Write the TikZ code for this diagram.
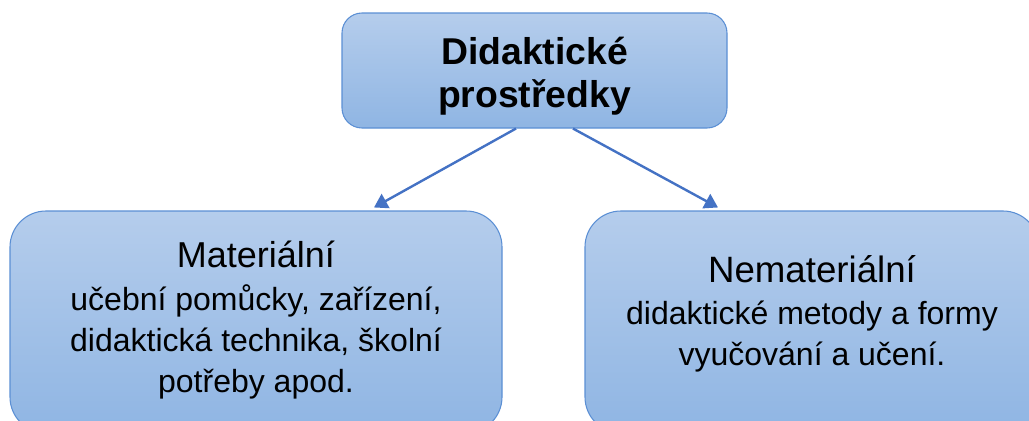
\documentclass[tikz,border=0pt]{standalone}
\usepackage{fontspec}
\setmainfont{Liberation Sans}
\usetikzlibrary{calc}
\usetikzlibrary{arrows.meta}

\definecolor{boxtop}{RGB}{181,205,236}
\definecolor{boxbottom}{RGB}{143,181,227}
\definecolor{boxline}{RGB}{91,143,212}
\definecolor{arrowblue}{RGB}{68,114,196}

\tikzset{
  mainbox/.style={draw=boxline, line width=0.8pt, top color=boxtop, bottom color=boxbottom,
    align=center, inner sep=0pt},
  boxtext/.style={align=center, inner sep=0pt, font=\fontsize{24}{30.5}\selectfont},
  link/.style={draw=arrowblue, line width=1.8pt, -{Triangle[width=12pt,length=10pt]}}
}

\begin{document}
\begin{tikzpicture}[x=0.75pt,y=-0.75pt]
\useasboundingbox (0,0) rectangle (1029,421);

% hlavni pojem
\node[mainbox, rounded corners=15pt, minimum width=288.75pt, minimum height=86.25pt] (root) at (534.5,70.5) {};
\node[boxtext, font=\bfseries\fontsize{28}{32}\selectfont] (roottext) at ($(root.center)+(0,6)$) {Didaktické\\prostředky};

% dve skupiny
\node[mainbox, rounded corners=27pt, minimum width=369pt, minimum height=166.5pt] (mat) at (256,322) {};
\node[mainbox, rounded corners=27pt, minimum width=340.5pt, minimum height=166.5pt] (nemat) at (812,322) {};

\node[boxtext] (mattext) at ($(mat.center)+(0,-2)$)
  {{\fontsize{27}{32}\selectfont Materiální}\\[2pt]učební pomůcky, zařízení,\\didaktická technika, školní\\potřeby apod.};
\node[boxtext] (nemattext) at ($(nemat.center)+(0,-8)$)
  {{\fontsize{27.5}{32}\selectfont Nemateriální}\\[1pt]didaktické metody a formy\\vyučování a učení.};

\draw[link] ($(root.south)+(-18.5,0)$) -- ($(mat.north)+(118,-3)$);
\draw[link] ($(root.south)+(38.5,0)$) -- ($(nemat.north)+(-94,-3)$);

\end{tikzpicture}
\end{document}
